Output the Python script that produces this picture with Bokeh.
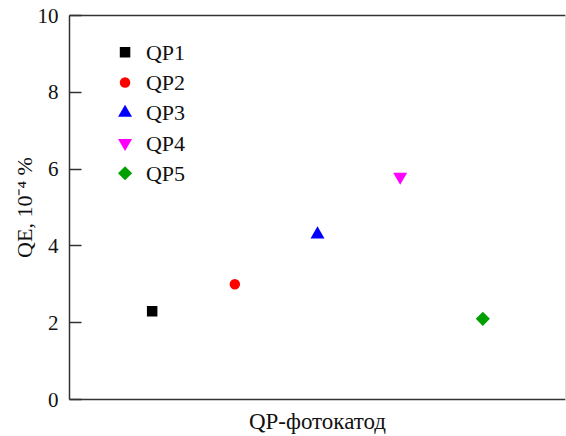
from bokeh.plotting import figure
from bokeh.models import LinearAxis, FixedTicker, Range1d, ColumnDataSource
from bokeh.core.properties import value
from bokeh.embed import file_html
from bokeh.resources import INLINE

# Quantum efficiency of the five photocathode samples
samples = ["QP1", "QP2", "QP3", "QP4", "QP5"]
positions = [1, 2, 3, 4, 5]
qe_values = [2.3, 3.0, 4.3, 5.8, 2.1]
y_ticks = [0, 2, 4, 6, 8, 10]

# Marker styling per sample (QP5 is a square turned by 45 degrees)
markers = ["square", "circle", "triangle", "inverted_triangle", "square"]
angles = [0, 0, 0, 0, 0.785398]
colors = ["#000000", "#ff0000", "#0000ff", "#ff00ff", "#00a000"]
sizes = [10.5, 10.5, 14, 14, 10]

FONT = "Liberation Serif"
TEXT_COLOR = "#111111"
AXIS_COLOR = "#333333"

# Legend layout in data units (ranges are fixed)
LEG_MARK_X = 0.672
LEG_TEXT_X = 0.925
LEG_TOP = 9.04
LEG_STEP = 0.787

p = figure(width=566, height=436, output_backend="svg", toolbar_location=None,
           x_range=Range1d(0, 6), y_range=Range1d(0, 10),
           min_border_left=69, min_border_right=1, min_border_top=15,
           min_border_bottom=36)
p.outline_line_color = None
p.grid.visible = False
p.background_fill_color = "white"
p.border_fill_color = "white"

# Left axis with inward ticks
ya = p.yaxis[0]
ya.ticker = FixedTicker(ticks=y_ticks)
ya.major_tick_in = 12
ya.major_tick_out = 0
ya.minor_tick_line_color = None
ya.axis_line_color = AXIS_COLOR
ya.axis_line_width = 1.5
ya.major_tick_line_color = AXIS_COLOR
ya.major_tick_line_width = 1.5
ya.major_label_text_font = FONT
ya.major_label_text_font_size = "21px"
ya.major_label_text_color = TEXT_COLOR
ya.major_label_standoff = 11
ya.axis_label = "QE, 10⁻⁴ %"
ya.axis_label_text_font = FONT
ya.axis_label_text_font_size = "22px"
ya.axis_label_text_font_style = "normal"
ya.axis_label_text_color = TEXT_COLOR
ya.axis_label_standoff = -2

# Bottom axis: only the line and the title
xa = p.xaxis[0]
xa.ticker = FixedTicker(ticks=[])
xa.major_tick_line_color = None
xa.minor_tick_line_color = None
xa.major_label_text_font_size = "0px"
xa.axis_line_color = AXIS_COLOR
xa.axis_line_width = 1.5
xa.axis_label = "QP-фотокатод"
xa.axis_label_text_font = FONT
xa.axis_label_text_font_size = "23px"
xa.axis_label_text_font_style = "normal"
xa.axis_label_text_color = TEXT_COLOR
xa.axis_label_standoff = 9

# Top frame line and a faint right edge
top = LinearAxis(ticker=FixedTicker(ticks=[]), major_tick_line_color=None,
                 minor_tick_line_color=None, major_label_text_font_size="0px",
                 axis_line_color=AXIS_COLOR, axis_line_width=1.5)
p.add_layout(top, "above")
right = LinearAxis(ticker=FixedTicker(ticks=[]), major_tick_line_color=None,
                   minor_tick_line_color=None, major_label_text_font_size="0px",
                   axis_line_color="#dcdcdc", axis_line_width=1)
p.add_layout(right, "right")

# Data points
for x, y, m, a, c, s in zip(positions, qe_values, markers, angles, colors, sizes):
    p.scatter([x], [y], marker=m, size=s, angle=a, fill_color=c, line_color=None)

# Legend: one row per sample, same marker as its point
n = len(samples)
leg_y = [LEG_TOP - i * LEG_STEP for i in range(n)]
leg = ColumnDataSource(dict(x=[LEG_MARK_X] * n, tx=[LEG_TEXT_X] * n, y=leg_y,
                            marker=markers, angle=angles, color=colors,
                            size=sizes, label=samples))
p.scatter(x="x", y="y", marker="marker", angle="angle", size="size",
          fill_color="color", line_color=None, source=leg)
p.text(x="tx", y="y", text="label", source=leg, text_font=value(FONT),
       text_font_size=value("22px"), text_color=TEXT_COLOR,
       text_baseline="middle", text_align="left")

open("out.html", "w").write(file_html(p, INLINE))
